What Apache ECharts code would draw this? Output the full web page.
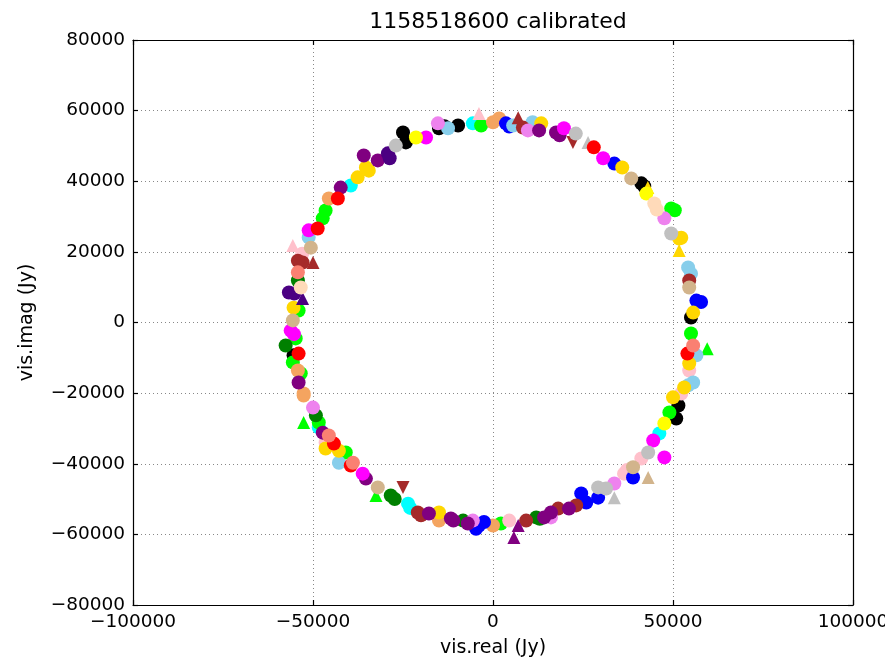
<!DOCTYPE html>
<html>
<head>
<meta charset="utf-8">
<script src="https://cdn.jsdelivr.net/npm/echarts@6/dist/echarts.min.js"></script>
<style>html,body{margin:0;padding:0;background:#fff}#c{width:885px;height:665px}</style>
</head>
<body>
<div id="c"></div>
<script>
const titleText = '1158518600 calibrated';
const xName = 'vis.real (Jy)';
const yName = 'vis.imag (Jy)';
const xMin = -100000, xMax = 100000, xStep = 50000;
const yMin = -80000, yMax = 80000, yStep = 20000;

const black = [[-9700,55800],[-15000,55000],[-13500,55600],[-25000,53800],[-24200,51000],[41200,39400],[42000,38600],[55000,1400],[51500,-23500],[50900,-27200],[-55400,-9300]];
const cyan = [[-5600,56400],[-39500,38800],[46200,-31400],[-23600,-51300],[-23000,-52500],[-48400,-29700]];
const lime = [[-3300,55800],[49500,32300],[50500,31800],[55000,-3100],[49000,-25500],[2200,-56900],[-40900,-36800],[-48400,-28300],[-47300,29500],[-46500,31700],[-54800,-4500],[-55600,-11300],[-53400,-14400],[-54000,3400]];
const limeTri = [[59500,-7400],[-52600,-28300],[-32500,-49000]];
const green = [[12000,-55200],[13000,-55600],[-8300,-56100],[-28400,-49000],[-27300,-50000],[-49200,-26300],[-54200,11900],[-57600,-6500]];
const pink = [[54500,-13600],[52300,-20100],[41200,-38500],[36400,-42800],[37200,-41800],[4500,-56100],[-46500,-34000],[-53000,19500]];
const pinkTri = [[-3900,59200],[-55600,21800]];
const sandybrown = [[0,56700],[1700,57800],[-15000,-56100],[0,-57500],[-45600,35100],[-54200,-13600],[-52600,-20100],[-52600,-20700]];
const blue = [[3600,56400],[4500,55500],[33700,45000],[56500,6200],[57800,5800],[29200,-49600],[25900,-51000],[24500,-48400],[-3900,-57500],[-4700,-58400],[-2500,-56500],[38900,-43900]];
const skyblue = [[5600,55800],[11000,56700],[-12500,55000],[54200,15600],[55000,13800],[56500,-9300],[55600,-17000],[54200,-17800],[-42800,-39700],[-51200,24100]];
const brown = [[8300,55200],[54500,11900],[23100,-51800],[18100,-52700],[9200,-56100],[-20900,-53800],[-20000,-54600],[-52900,17000],[-54200,17500]];
const brownTri = [[7000,58000],[-50000,17000]];
const brownTriDown = [[22200,51000],[-25000,-46700]];
const violet = [[9700,54400],[47600,29500],[33700,-45600],[16100,-55200],[-5600,-56100],[-50000,-24100],[-15300,56400]];
const gold = [[13400,56400],[35900,43900],[52300,24000],[51700,23800],[55600,2800],[54500,-11600],[53100,-18400],[50000,-21200],[-15000,-53800],[-42800,-36300],[-46500,-35700],[-37600,41100],[-35300,43900],[-34500,43000],[-55400,4200]];
const goldTri = [[43000,38200],[51700,20400]];
const purple = [[12800,54400],[17500,53800],[18500,53000],[21100,-52700],[16100,-53800],[14200,-55200],[-11000,-56100],[-7000,-56900],[-11700,-55500],[-17800,-54100],[-35300,-44200],[-47300,-31200],[-54000,-17000],[-42300,38200],[-35900,47300],[-32000,45900]];
const purpleTri = [[7000,-57500],[5800,-60900]];
const indigo = [[-56700,8500],[-55200,8200],[-29200,47900],[-28700,46500]];
const indigoTri = [[-52900,6800]];
const magenta = [[19700,55000],[30600,46500],[44500,-33400],[47600,-38200],[-36200,-42800],[-56200,-2300],[-55300,-3300],[-51200,26100],[-18600,52400]];
const silver = [[23000,53500],[49500,25200],[43100,-36800],[31400,-47000],[29200,-46700],[-27000,50100]];
const silverTri = [[26400,51000],[33700,-49600]];
const red = [[28000,49600],[54000,-8800],[-39500,-40500],[-44200,-34300],[-54000,-8800],[-48700,26600],[-43100,35100]];
const tan = [[38400,40800],[54500,9900],[38900,-41000],[-32000,-46700],[-50600,21200],[-55600,600]];
const tanTri = [[43100,-43900]];
const yellow = [[42600,36500],[47600,-28600],[-21400,52400]];
const peachpuff = [[44800,33700],[45500,32000],[-53400,9900]];
const salmon = [[55600,-6500],[-38900,-39700],[-45600,-32000],[-54200,14200]];

const groups = [
  [black,'#000000','circle',0],[cyan,'#00ffff','circle',0],[lime,'#00ff00','circle',0],
  [limeTri,'#00ff00','triangle',0],[green,'#008000','circle',0],[pink,'#ffc0cb','circle',0],
  [pinkTri,'#ffc0cb','triangle',0],[sandybrown,'#f4a460','circle',0],[blue,'#0000ff','circle',0],
  [skyblue,'#87ceeb','circle',0],[brown,'#a52a2a','circle',0],[brownTri,'#a52a2a','triangle',0],
  [brownTriDown,'#a52a2a','triangle',180],[violet,'#ee82ee','circle',0],[gold,'#ffd700','circle',0],
  [goldTri,'#ffd700','triangle',0],[purple,'#800080','circle',0],[purpleTri,'#800080','triangle',0],
  [indigo,'#4b0082','circle',0],[indigoTri,'#4b0082','triangle',0],[magenta,'#ff00ff','circle',0],
  [silver,'#c0c0c0','circle',0],[silverTri,'#c0c0c0','triangle',0],[red,'#ff0000','circle',0],
  [tan,'#d2b48c','circle',0],[tanTri,'#d2b48c','triangle',0],[yellow,'#ffff00','circle',0],
  [peachpuff,'#ffdab9','circle',0],[salmon,'#fa8072','circle',0]
];

const fmt = v => v < 0 ? '\u2212' + Math.abs(v) : String(v);
const font = 'DejaVu Sans';
const lineStyle = {color:'#000', width:1.2};
const gridLine = {show:true, lineStyle:{color:'#888', type:[1,3], width:1}};

const chart = echarts.init(document.getElementById('c'), null, {renderer:'canvas'});
chart.setOption({
  animation:false,
  backgroundColor:'#fff',
  title:{text:titleText, left:493, textAlign:'center', top:6,
    textStyle:{fontFamily:font, fontSize:22, fontWeight:'normal', color:'#000'}},
  grid:{left:133, right:32, top:40, bottom:60, outerBoundsMode:'none', containLabel:false},
  xAxis:[
    {type:'value', min:xMin, max:xMax, interval:xStep, name:xName, nameLocation:'middle', nameGap:34,
     nameTextStyle:{fontFamily:font, fontSize:19, color:'#000'},
     axisLine:{show:true, onZero:false, lineStyle}, axisTick:{show:true, inside:true, length:5, lineStyle},
     axisLabel:{fontFamily:font, fontSize:18.5, color:'#000', formatter:fmt, margin:8},
     splitLine:gridLine},
    {type:'value', position:'top', min:xMin, max:xMax, interval:xStep,
     axisLine:{show:true, onZero:false, lineStyle}, axisTick:{show:true, inside:true, length:5, lineStyle},
     axisLabel:{show:false}, splitLine:{show:false}}
  ],
  yAxis:[
    {type:'value', min:yMin, max:yMax, interval:yStep, name:yName, nameLocation:'middle', nameGap:96,
     nameTextStyle:{fontFamily:font, fontSize:19, color:'#000'},
     axisLine:{show:true, onZero:false, lineStyle}, axisTick:{show:true, inside:true, length:5, lineStyle},
     axisLabel:{fontFamily:font, fontSize:18.5, color:'#000', formatter:fmt, margin:8},
     splitLine:gridLine},
    {type:'value', position:'right', min:yMin, max:yMax, interval:yStep,
     axisLine:{show:true, onZero:false, lineStyle}, axisTick:{show:true, inside:true, length:5, lineStyle},
     axisLabel:{show:false}, splitLine:{show:false}}
  ],
  series: groups.map(([d,c,s,r]) => ({
    type:'scatter', data:d, xAxisIndex:0, yAxisIndex:0,
    symbol:s, symbolSize: s === 'triangle' ? 13 : 14, symbolRotate:r,
    itemStyle:{color:c, opacity:1}, silent:true
  }))
});
</script>
</body>
</html>
